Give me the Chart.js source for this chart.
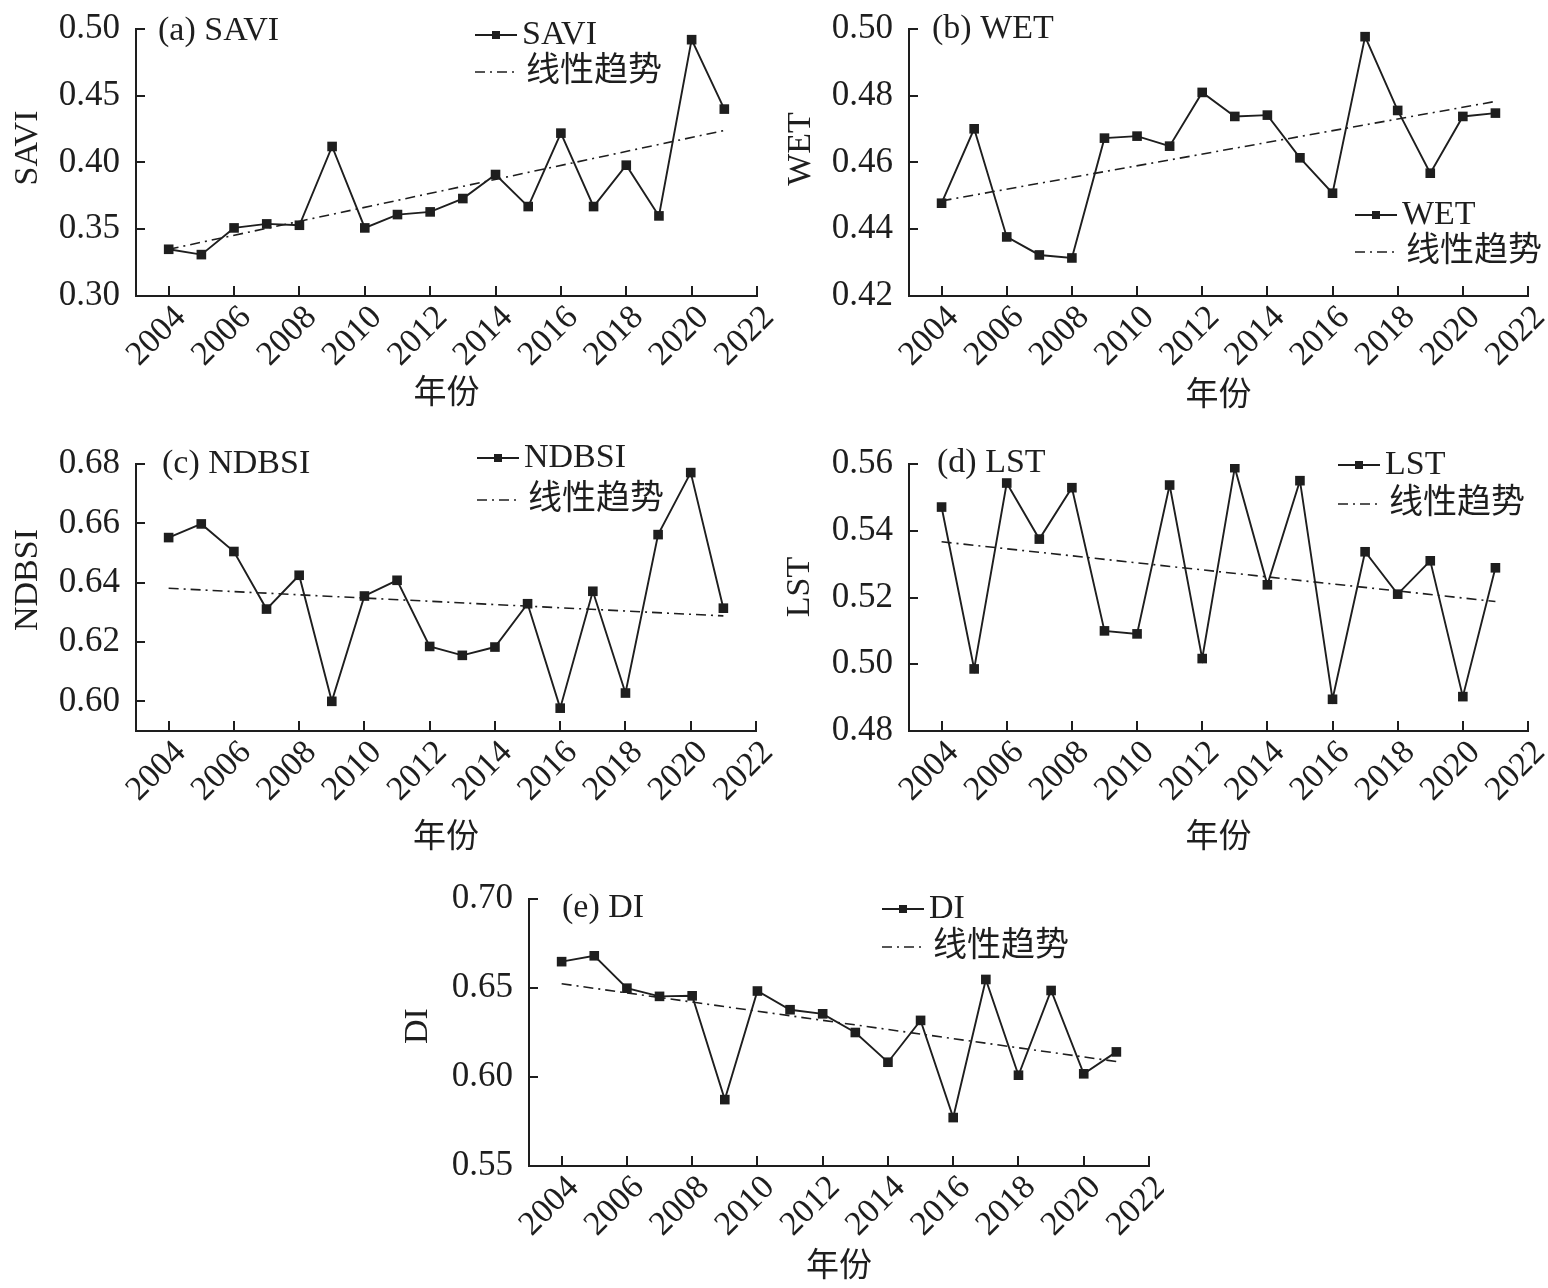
<!DOCTYPE html>
<html>
<head>
<meta charset="utf-8">
<script src="https://cdn.jsdelivr.net/npm/chart.js@4.4.1/dist/chart.umd.min.js"></script>
<style>
  body { margin: 0; background: #fff; width: 1548px; height: 1288px; position: relative; overflow: hidden; }
  canvas { position: absolute; }
</style>
</head>
<body>
<canvas id="savi" width="774" height="430" style="left:0;top:0"></canvas>
<canvas id="wet" width="774" height="430" style="left:774px;top:0"></canvas>
<canvas id="ndbsi" width="774" height="440" style="left:0;top:430px"></canvas>
<canvas id="lst" width="774" height="440" style="left:774px;top:430px"></canvas>
<canvas id="di" width="774" height="418" style="left:390px;top:870px"></canvas>
<script>
// years and axis ticks
const years = [2004, 2005, 2006, 2007, 2008, 2009, 2010, 2011, 2012, 2013, 2014, 2015, 2016, 2017, 2018, 2019, 2020, 2021];
const xTicks = [2004, 2006, 2008, 2010, 2012, 2014, 2016, 2018, 2020, 2022];
const trendYears = [2004, 2021];

const saviValues = [0.335, 0.331, 0.351, 0.354, 0.353, 0.412, 0.351, 0.361, 0.363, 0.373, 0.391, 0.367, 0.422, 0.367, 0.398, 0.360, 0.492, 0.440];
const saviTrend = [0.335, 0.424];
const saviYTicks = [0.30, 0.35, 0.40, 0.45, 0.50];

const wetValues = [0.4478, 0.4701, 0.4377, 0.4323, 0.4314, 0.4673, 0.4679, 0.4649, 0.4810, 0.4738, 0.4742, 0.4614, 0.4508, 0.4977, 0.4756, 0.4568, 0.4738, 0.4748];
const wetTrend = [0.4485, 0.4783];
const wetYTicks = [0.42, 0.44, 0.46, 0.48, 0.50];

const ndbsiValues = [0.6552, 0.6598, 0.6505, 0.6311, 0.6425, 0.6000, 0.6355, 0.6408, 0.6185, 0.6155, 0.6183, 0.6329, 0.5977, 0.6371, 0.6028, 0.6562, 0.6771, 0.6314];
const ndbsiTrend = [0.6381, 0.6288];
const ndbsiYTicks = [0.60, 0.62, 0.64, 0.66, 0.68];

const lstValues = [0.5471, 0.4986, 0.5543, 0.5375, 0.5529, 0.5100, 0.5091, 0.5537, 0.5017, 0.5589, 0.5238, 0.5550, 0.4895, 0.5337, 0.5210, 0.5310, 0.4903, 0.5289];
const lstTrend = [0.5367, 0.5188];
const lstYTicks = [0.48, 0.50, 0.52, 0.54, 0.56];

const diValues = [0.6648, 0.6681, 0.6499, 0.6453, 0.6456, 0.5873, 0.6483, 0.6378, 0.6355, 0.6250, 0.6083, 0.6318, 0.5772, 0.6548, 0.6010, 0.6486, 0.6018, 0.6141];
const diTrend = [0.6524, 0.6087];
const diYTicks = [0.55, 0.60, 0.65, 0.70];

const ink = '#1e1e1e';
const family = '"Liberation Serif", "Noto Sans CJK SC", serif';

// per-panel layout (canvas pixels)
const panels = [
    { id: 'savi', tag: '(a) SAVI', name: 'SAVI', values: saviValues, trend: saviTrend, yTicks: saviYTicks, yMin: 0.30,
      area: { left: 136, top: 29, right: 757, bottom: 296 }, yTitle: [28, 148], xTitlePad: 16,
      tagDx: 22, tagDy: 2, legDx: 339, legDy: [6, 43] },
    { id: 'wet', tag: '(b) WET', name: 'WET', values: wetValues, trend: wetTrend, yTicks: wetYTicks, yMin: 0.42,
      area: { left: 135, top: 29, right: 754, bottom: 296 }, yTitle: [27, 149], xTitlePad: 14,
      tagDx: 23, tagDy: 0, legDx: 446, legDy: [186, 223] },
    { id: 'ndbsi', tag: '(c) NDBSI', name: 'NDBSI', values: ndbsiValues, trend: ndbsiTrend, yTicks: ndbsiYTicks, yMin: 0.59,
      area: { left: 136, top: 34, right: 756, bottom: 301 }, yTitle: [28, 150], xTitlePad: 12,
      tagDx: 26, tagDy: 0, legDx: 341, legDy: [-6, 36] },
    { id: 'lst', tag: '(d) LST', name: 'LST', values: lstValues, trend: lstTrend, yTicks: lstYTicks, yMin: 0.48,
      area: { left: 135, top: 34, right: 754, bottom: 301 }, yTitle: [26, 157], xTitlePad: 12,
      tagDx: 28, tagDy: -1, legDx: 429, legDy: [1, 40] },
    { id: 'di', tag: '(e) DI', name: 'DI', values: diValues, trend: diTrend, yTicks: diYTicks, yMin: 0.55,
      area: { left: 139, top: 29, right: 759, bottom: 296 }, yTitle: [28, 156], xTitlePad: 1,
      tagDx: 33, tagDy: 9, legDx: 353, legDy: [10, 48] }
];

// inward ticks, y title, panel tag and legend
const decor = {
    id: 'decor',
    afterDraw(chart, args, o) {
        const { ctx, chartArea: a, scales: { x, y } } = chart;
        ctx.save();
        ctx.strokeStyle = ink;
        ctx.fillStyle = ink;
        ctx.lineWidth = 2;
        ctx.beginPath();
        x.ticks.forEach(t => {
            const px = Math.round(x.getPixelForValue(t.value));
            ctx.moveTo(px, a.bottom);
            ctx.lineTo(px, a.bottom - 10);
        });
        y.ticks.forEach(t => {
            const py = Math.round(y.getPixelForValue(t.value));
            ctx.moveTo(a.left, py);
            ctx.lineTo(a.left + 9, py);
        });
        ctx.stroke();

        ctx.font = '34px ' + family;
        ctx.textBaseline = 'middle';

        ctx.save();
        ctx.translate(o.yTitle[0], o.yTitle[1]);
        ctx.rotate(-Math.PI / 2);
        ctx.textAlign = 'center';
        ctx.fillText(o.name, 0, 0);
        ctx.restore();

        ctx.textAlign = 'left';
        ctx.fillText(o.tag, a.left + o.tagDx, a.top + o.tagDy);

        chart.data.datasets.forEach((ds, i) => {
            const lx = a.left + o.legDx;
            const ly = a.top + o.legDy[i];
            ctx.save();
            ctx.lineWidth = ds.borderWidth;
            ctx.setLineDash(ds.borderDash || []);
            ctx.beginPath();
            ctx.moveTo(lx, ly);
            ctx.lineTo(lx + 42, ly);
            ctx.stroke();
            ctx.restore();
            if (ds.pointRadius) ctx.fillRect(lx + 17, ly - 4, 8, 8);
            ctx.fillText(ds.label, lx + (ds.pointRadius ? 47 : 51), ly);
        });
        ctx.restore();
    }
};

function drawPanel(p) {
    const canvas = document.getElementById(p.id);
    const w = canvas.width, h = canvas.height;
    new Chart(canvas, {
        type: 'line',
        data: {
            datasets: [
                {
                    label: p.name,
                    data: years.map((yr, i) => ({ x: yr, y: p.values[i] })),
                    borderColor: ink,
                    borderWidth: 1.9,
                    pointStyle: 'rect',
                    pointRadius: 6.8,
                    pointBackgroundColor: ink,
                    pointBorderWidth: 0,
                    tension: 0
                },
                {
                    label: '线性趋势',
                    data: trendYears.map((yr, i) => ({ x: yr, y: p.trend[i] })),
                    borderColor: ink,
                    borderWidth: 1.6,
                    borderDash: [10, 5, 2, 5],
                    pointRadius: 0,
                    tension: 0
                }
            ]
        },
        options: {
            responsive: false,
            animation: false,
            events: [],
            layout: { autoPadding: false, padding: { left: 0, top: p.area.top, right: w - p.area.right, bottom: 0 } },
            plugins: {
                legend: { display: false },
                tooltip: { enabled: false },
                decor: { name: p.name, yTitle: p.yTitle, tag: p.tag, tagDx: p.tagDx, tagDy: p.tagDy, legDx: p.legDx, legDy: p.legDy }
            },
            scales: {
                x: {
                    type: 'linear',
                    min: 2003,
                    max: 2022,
                    afterBuildTicks: s => { s.ticks = xTicks.map(v => ({ value: v })); },
                    afterFit: s => { s.height = h - p.area.bottom; s.paddingLeft = 0; s.paddingRight = 0; },
                    grid: { display: false },
                    border: { display: true, color: ink, width: 2 },
                    ticks: {
                        autoSkip: false, minRotation: 45, maxRotation: 45, padding: -6, labelOffset: 12,
                        color: ink, font: { family: family, size: 34 },
                        callback: v => String(v)
                    },
                    title: { display: true, text: '年份', color: ink, font: { family: family, size: 33 }, padding: { top: 0, bottom: p.xTitlePad } }
                },
                y: {
                    min: p.yMin,
                    max: p.yTicks[p.yTicks.length - 1],
                    afterBuildTicks: s => { s.ticks = p.yTicks.map(v => ({ value: v })); },
                    afterFit: s => { s.width = p.area.left; s.paddingTop = 0; s.paddingBottom = 0; },
                    grid: { display: false },
                    border: { display: true, color: ink, width: 2 },
                    ticks: { padding: 8, color: ink, font: { family: family, size: 35 }, callback: v => v.toFixed(2) }
                }
            }
        },
        plugins: [decor]
    });
}

panels.forEach(drawPanel);
</script>
</body>
</html>
